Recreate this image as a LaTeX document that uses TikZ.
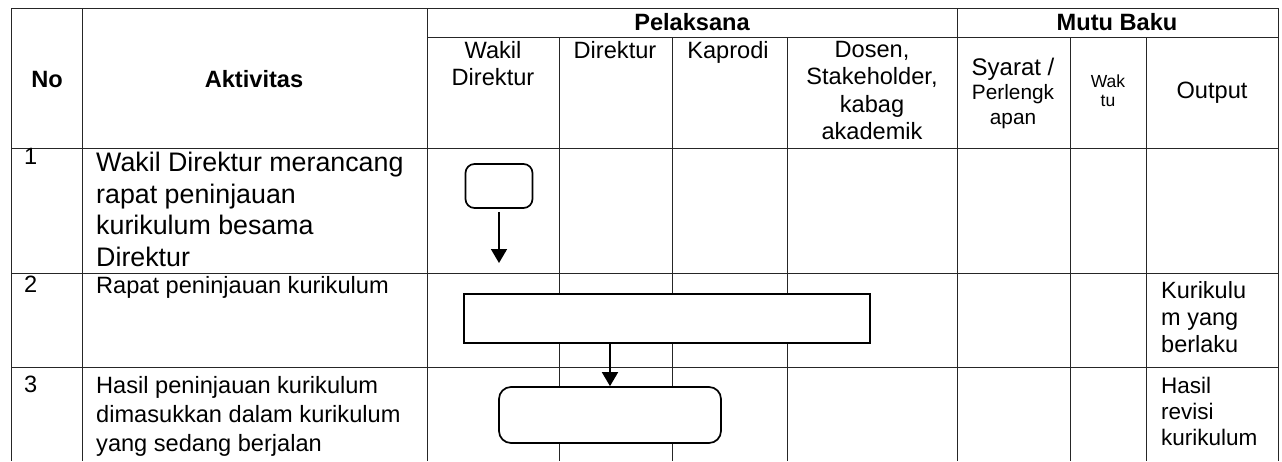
\documentclass[tikz,border=0pt]{standalone}
\usepackage{fontspec}
\setmainfont{Liberation Sans}
\usetikzlibrary{arrows.meta}

\begin{document}
\begin{tikzpicture}[
    x=1pt,
    y=-1pt,
    >={Triangle[length=14pt, width=16pt]},
    grid/.style={line width=1pt, black!85},
    head/.style={font=\fontsize{23.6}{28}\selectfont\bfseries, inner sep=0pt},
    lane/.style={font=\fontsize{23.6}{27.5}\selectfont, align=center, inner sep=0pt},
    body/.style={font=\fontsize{23.6}{29}\selectfont, align=left, anchor=north west, inner sep=0pt},
    terminal/.style={draw, fill=white, line width=1.7pt, rounded corners=9pt, inner sep=0pt},
    proses/.style={draw, fill=white, line width=1.7pt, inner sep=0pt},
    flow/.style={->, line width=1.7pt}
]
\useasboundingbox (0,0) rectangle (1282,461);
% Grid
\foreach \x in {11,82,427,957,1278} {
    \draw[grid] (\x,8) -- (\x,461);
}
\foreach \x in {559,672,787,1070,1146} {
    \draw[grid] (\x,37) -- (\x,461);
}
\foreach \y in {8,148,273,367} {
    \draw[grid] (11,\y) -- (1278,\y);
}
\draw[grid] (427,37) -- (1278,37);
% Header
\node[head] (no) at (47,79) {No};
\node[head] (aktivitas) at (254,79) {Aktivitas};
\node[head] (pelaksana) at (692,22) {Pelaksana};
\node[head] (mutu) at (1117,22) {Mutu Baku};
\node[lane, anchor=north] (wadir) at (493,41) {Wakil\\Direktur};
\node[lane, anchor=north] (direktur) at (615,41) {Direktur};
\node[lane, anchor=north] (kaprodi) at (728,41) {Kaprodi};
\node[lane, anchor=north] (dosen) at (872,41) {Dosen,\\Stakeholder,\\kabag\\akademik};
\node[lane, font=\fontsize{20.8}{24.5}\selectfont] (syarat) at (1013,93) {{\fontsize{24}{24.5}\selectfont Syarat /}\\Perlengk\\apan};
\node[lane, font=\fontsize{17.5}{19}\selectfont] (waktu) at (1108,91) {Wak\\tu};
\node[lane] (output) at (1212,93) {Output};
% Rows
\node[body] (n1) at (24,148) {1};
\node[body, font=\fontsize{26.8}{31.5}\selectfont] (akt1) at (96,152) {Wakil Direktur merancang\\rapat peninjauan\\kurikulum besama\\Direktur};
\node[body] (n2) at (24,276) {2};
\node[body] (akt2) at (96,276.5) {Rapat peninjauan kurikulum};
\node[body] (n3) at (24,376) {3};
\node[body] (akt3) at (96,376.5) {Hasil peninjauan kurikulum\\dimasukkan dalam kurikulum\\yang sedang berjalan};
\node[body, font=\fontsize{23.5}{27}\selectfont] (out2) at (1161,281.5) {Kurikulu\\m yang\\berlaku};
\node[body, font=\fontsize{22.5}{26}\selectfont] (out3) at (1161,377) {Hasil\\revisi\\kurikulum};
% Flow
\node[terminal, minimum width=67pt, minimum height=44pt] (mulai) at (499,186) {};
\node[proses, minimum width=406pt, minimum height=49pt] (rapat) at (667,318.5) {};
\node[terminal, minimum width=222pt, minimum height=56pt, rounded corners=12pt] (hasil) at (610,415) {};
\coordinate (ujung) at (499,263);
\draw[flow] ([yshift=-3pt]mulai.south) -- (ujung);
\draw[flow] (rapat.south -| hasil.north) -- (hasil.north);
\end{tikzpicture}
\end{document}
